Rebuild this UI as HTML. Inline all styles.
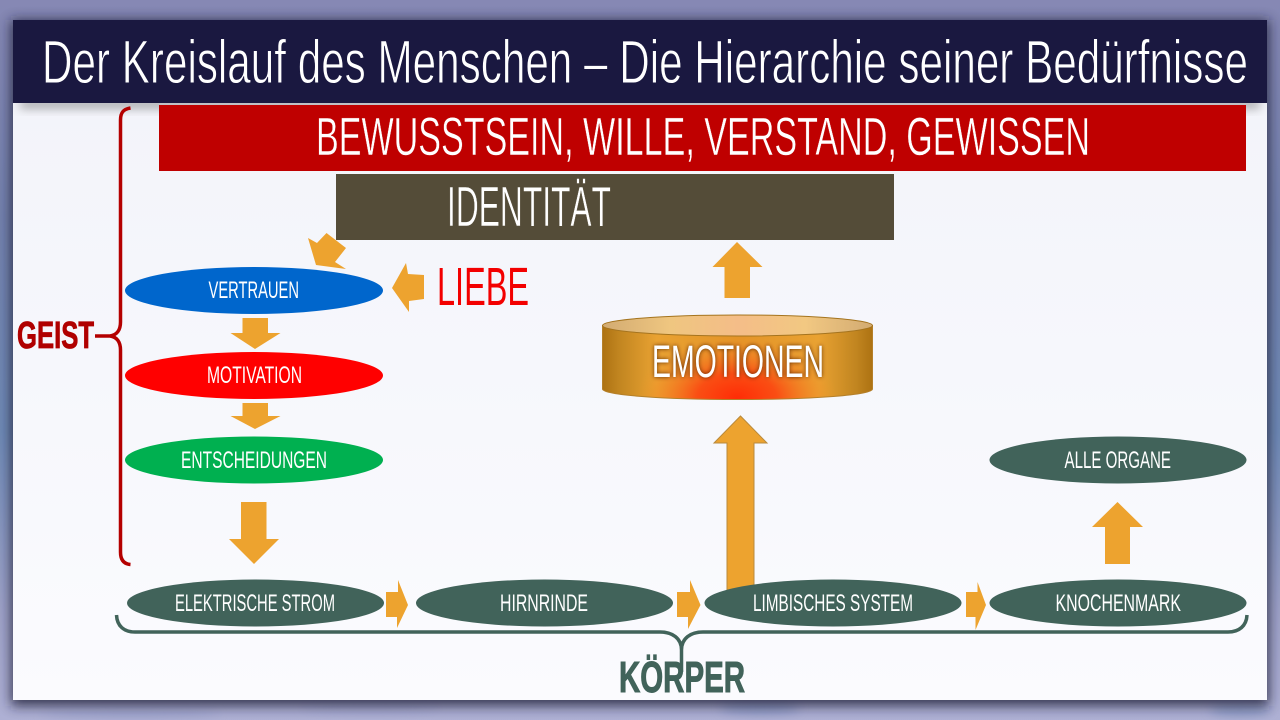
<!DOCTYPE html>
<html lang="de">
<head>
<meta charset="utf-8">
<title>Der Kreislauf des Menschen</title>
<style>
html,body{margin:0;padding:0;width:1280px;height:720px;overflow:hidden;background:#8587b1}
svg{display:block}
text{font-family:"Liberation Sans",sans-serif;fill:#fff}
</style>
</head>
<body>
<svg xmlns="http://www.w3.org/2000/svg" width="1280" height="720" viewBox="0 0 1280 720">
<defs>
<linearGradient id="bg" x1="0" y1="0" x2="0" y2="1">
<stop offset="0" stop-color="#8688b4"/>
<stop offset=".3" stop-color="#7482ad"/>
<stop offset=".6" stop-color="#6f8ab5"/>
<stop offset=".85" stop-color="#9fa3c8"/>
<stop offset="1" stop-color="#aeb0d4"/>
</linearGradient>
<linearGradient id="panel" x1="0" y1="0" x2="0" y2="1">
<stop offset="0" stop-color="#f2f3f9"/>
<stop offset=".5" stop-color="#f6f7fc"/>
<stop offset="1" stop-color="#fbfbfe"/>
</linearGradient>
<filter id="blur" x="-10%" y="-10%" width="120%" height="120%"><feGaussianBlur stdDeviation="6"/></filter>
<filter id="blur2" x="-10%" y="-100%" width="120%" height="300%"><feGaussianBlur stdDeviation="5"/></filter>
<filter id="cloud" x="-30%" y="-200%" width="160%" height="500%"><feGaussianBlur stdDeviation="5"/></filter>
<filter id="glow" x="-20%" y="-40%" width="140%" height="180%"><feGaussianBlur stdDeviation="2.2"/></filter>
<linearGradient id="cylBody" x1="0" y1="0" x2="1" y2="0">
<stop offset="0" stop-color="#ad7212"/>
<stop offset=".06" stop-color="#c18520"/>
<stop offset=".2" stop-color="#e9a232"/>
<stop offset=".5" stop-color="#e39428"/>
<stop offset=".8" stop-color="#e9a232"/>
<stop offset=".94" stop-color="#c18520"/>
<stop offset="1" stop-color="#ad7212"/>
</linearGradient>
<radialGradient id="cylHot" gradientUnits="userSpaceOnUse" cx="737" cy="398" r="1" gradientTransform="translate(737 398) scale(100 62) translate(-737 -398)">
<stop offset="0" stop-color="#ff2c06"/>
<stop offset=".4" stop-color="#fb4a12" stop-opacity=".95"/>
<stop offset=".7" stop-color="#f57a20" stop-opacity=".6"/>
<stop offset="1" stop-color="#f39a28" stop-opacity="0"/>
</radialGradient>
<linearGradient id="cylTop" x1="0" y1="0" x2="1" y2="0">
<stop offset="0" stop-color="#d2ab72"/>
<stop offset=".25" stop-color="#efc680"/>
<stop offset=".5" stop-color="#f4bd88"/>
<stop offset=".75" stop-color="#f2c882"/>
<stop offset="1" stop-color="#d2ab72"/>
</linearGradient>
</defs>

<!-- background -->
<rect width="1280" height="720" fill="url(#bg)"/>
<g filter="url(#cloud)" opacity=".7">
<ellipse cx="130" cy="714" rx="90" ry="3" fill="#8d97c2"/>
<ellipse cx="370" cy="708" rx="70" ry="3" fill="#979dc6"/>
<ellipse cx="760" cy="708" rx="40" ry="6" fill="#7f8fbc"/>
<ellipse cx="1240" cy="710" rx="30" ry="6" fill="#7f93be"/>
</g>

<!-- panel -->
<rect x="11" y="20" width="1258" height="686" fill="#1c1c34" opacity=".8" filter="url(#blur)"/>
<rect x="13" y="20" width="1254" height="680" fill="url(#panel)"/>
<rect x="20" y="100" width="1240" height="8" fill="#555" opacity=".55" filter="url(#blur2)"/>
<rect x="13" y="20" width="1254" height="83" fill="#1a1840"/>
<text x="42" y="83" font-size="61" textLength="1206" lengthAdjust="spacingAndGlyphs" stroke="#1a1840" stroke-width=".9">Der Kreislauf des Menschen – Die Hierarchie seiner Bedürfnisse</text>

<!-- top boxes -->
<rect x="159" y="105" width="1087" height="66" fill="#bf0000"/>
<text x="316" y="155" font-size="54" textLength="774" lengthAdjust="spacingAndGlyphs" stroke="#bf0000" stroke-width=".5">BEWUSSTSEIN, WILLE, VERSTAND, GEWISSEN</text>
<rect x="336" y="174" width="558" height="66" fill="#544c38"/>
<text x="447" y="226" font-size="57" textLength="164" lengthAdjust="spacingAndGlyphs" stroke="#544c38" stroke-width=".6">IDENTITÄT</text>
<text x="437" y="305" font-size="54" textLength="92" lengthAdjust="spacingAndGlyphs" style="fill:#f30000">LIEBE</text>

<!-- GEIST brace -->
<path d="M130.5 108 C124 109 120.5 112 120.5 120 L120.5 322 C120.5 330 117 335 110 336 L95 336 M110 336 C117 337 120.5 342 120.5 350 L120.5 552 C120.5 560 124 564 130.5 564.5" fill="none" stroke="#b40000" stroke-width="3.5"/>
<text x="17" y="348" font-size="38" font-weight="bold" textLength="77" lengthAdjust="spacingAndGlyphs" style="fill:#b00000" stroke="#b00000" stroke-width=".8">GEIST</text>

<!-- arrows -->
<g fill="#eda32f">
<polygon points="326.5,233 346,248 335,262 346,269 316,265 308,238 317,243"/>
<polygon points="392,288 406,263 408,274 424,275 424,299 409,301 409,312"/>
<polygon points="242.5,318 268,318 268,333 280.5,333 255,349 230.5,333 242.5,333"/>
<polygon points="242.5,403 268,403 268,416 280.5,416 255,429 230.5,416 242.5,416"/>
<polygon points="241,502 266.5,502 266.5,539 279,539 254,564 229,539 241,539"/>
<polygon points="737,242 762.5,267 750,267 750,298 724.5,298 724.5,267 712.5,267"/>
<polygon points="1117.5,502 1143,527 1130,527 1130,564 1105,564 1105,527 1092,527"/>
<polygon points="386,592 398,592 398,580 408,605 397,628 397,617 386,617"/>
<polygon points="677,592 690,592 690,580 700.5,605 688,629 688,617 677,617"/>
<polygon points="966,592 977.5,592 977.5,582 986,605 975.5,630 975.5,617 966,617"/>
<polygon points="740.5,416 767,443 754,443 754,600 727,600 727,443 714,443" stroke="#b98a3c" stroke-width="1"/>
</g>

<!-- ellipses -->
<ellipse cx="254" cy="290.5" rx="129" ry="23.5" fill="#0066cc"/>
<ellipse cx="254" cy="375.5" rx="129" ry="23.5" fill="#ff0000"/>
<ellipse cx="254" cy="460" rx="129" ry="23.5" fill="#00b050"/>
<ellipse cx="255.5" cy="603" rx="128.5" ry="23.5" fill="#41635a"/>
<ellipse cx="544.5" cy="603" rx="128.5" ry="23.5" fill="#41635a"/>
<ellipse cx="833" cy="603" rx="128.5" ry="23.5" fill="#41635a"/>
<ellipse cx="1118" cy="603" rx="128.5" ry="23.5" fill="#41635a"/>
<ellipse cx="1118" cy="460" rx="128.5" ry="23.5" fill="#41635a"/>

<text x="208.5" y="298" font-size="24" textLength="90.5" lengthAdjust="spacingAndGlyphs">VERTRAUEN</text>
<text x="207" y="383" font-size="24" textLength="95" lengthAdjust="spacingAndGlyphs">MOTIVATION</text>
<text x="181" y="468" font-size="24" textLength="146" lengthAdjust="spacingAndGlyphs">ENTSCHEIDUNGEN</text>
<text x="175" y="611" font-size="24" textLength="160" lengthAdjust="spacingAndGlyphs">ELEKTRISCHE STROM</text>
<text x="500" y="611" font-size="24" textLength="88" lengthAdjust="spacingAndGlyphs">HIRNRINDE</text>
<text x="753" y="611" font-size="24" textLength="160" lengthAdjust="spacingAndGlyphs">LIMBISCHES SYSTEM</text>
<text x="1055.5" y="611" font-size="24" textLength="125.5" lengthAdjust="spacingAndGlyphs">KNOCHENMARK</text>
<text x="1064.5" y="468" font-size="24" textLength="106.5" lengthAdjust="spacingAndGlyphs">ALLE ORGANE</text>

<!-- cylinder -->
<path d="M602.5 325.5 L602.5 389 C602.5 395 662 399.5 737.5 399.5 C813 399.5 872.5 395 872.5 389 L872.5 325.5 Z" fill="url(#cylBody)"/>
<path d="M602.5 325.5 L602.5 389 C602.5 395 662 399.5 737.5 399.5 C813 399.5 872.5 395 872.5 389 L872.5 325.5 Z" fill="url(#cylHot)" stroke="#b5802a" stroke-width="1"/>
<ellipse cx="737.5" cy="325.5" rx="135" ry="10.5" fill="url(#cylTop)" stroke="#a5741f" stroke-width="1"/>
<text x="652" y="377" font-size="45" textLength="172" lengthAdjust="spacingAndGlyphs" style="fill:#5a2500" filter="url(#glow)">EMOTIONEN</text>
<text x="652" y="377" font-size="45" textLength="172" lengthAdjust="spacingAndGlyphs">EMOTIONEN</text>

<!-- KOERPER brace + label -->
<text x="619" y="692" font-size="44" font-weight="bold" textLength="126" lengthAdjust="spacingAndGlyphs" style="fill:#41635a" stroke="#41635a" stroke-width="1">KÖRPER</text>
<path d="M116.5 615 C117 626 124 632 135 632 L660 632 C672 632 681.5 638 681.5 650 L681.5 672 M681.5 650 C681.5 638 691 632 703 632 L1228 632 C1239 632 1246.5 626 1247 615" fill="none" stroke="#41635a" stroke-width="3.5"/>
</svg>
</body>
</html>
